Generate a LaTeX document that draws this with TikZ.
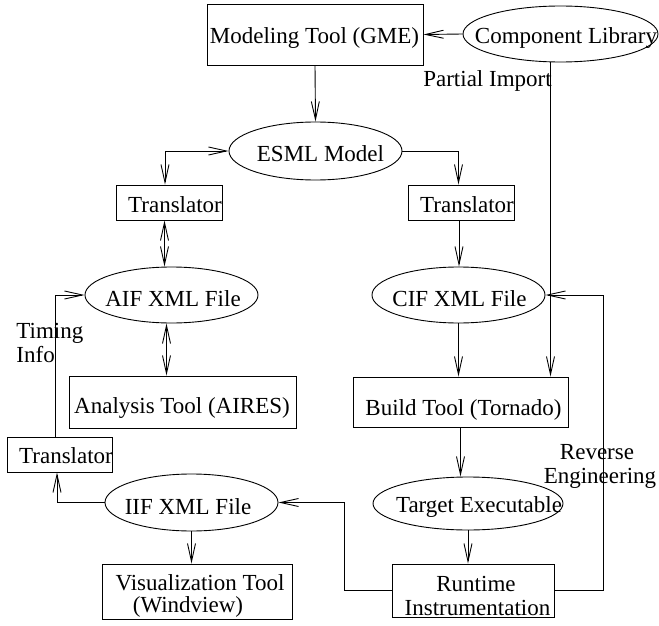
\documentclass[tikz,border=0pt]{standalone}
\usepackage{fontspec}
\setmainfont{Liberation Serif}
\usetikzlibrary{arrows.meta,shapes.geometric}
\begin{document}
\begin{tikzpicture}[x=1pt,y=-1pt, line width=0.9pt,
  box/.style={draw, rectangle, inner sep=0pt},
  ell/.style={draw, ellipse, inner sep=0pt},
  txt/.style={inner sep=0pt, anchor=base, font=\fontsize{23}{23}\selectfont},
  arr/.style={-{Straight Barb[length=18pt,width=8pt]}},
  darr/.style={{Straight Barb[length=18pt,width=8pt]}-{Straight Barb[length=18pt,width=8pt]}}]
\useasboundingbox (0,0) rectangle (659,626);
% shapes
\node[box, minimum width=216pt, minimum height=61pt] (mt) at (315,34.5) {};
\node[ell, minimum width=195pt, minimum height=56pt] (cl) at (560.5,34) {};
\node[ell, minimum width=173pt, minimum height=58pt] (esml) at (315.5,151) {};
\node[box, minimum width=106pt, minimum height=35pt] (tr1) at (169,202.5) {};
\node[box, minimum width=106pt, minimum height=35pt] (tr2) at (461,202.5) {};
\node[ell, minimum width=173pt, minimum height=56pt] (aif) at (171.5,295) {};
\node[ell, minimum width=173pt, minimum height=56pt] (cif) at (458.5,295) {};
\node[box, minimum width=227pt, minimum height=52pt] (an) at (182.5,402) {};
\node[box, minimum width=215pt, minimum height=50pt] (bt) at (460.5,402) {};
\node[box, minimum width=105pt, minimum height=35pt] (tr3) at (59.5,454.5) {};
\node[ell, minimum width=173pt, minimum height=57pt] (iif) at (191.5,502.5) {};
\node[ell, minimum width=190pt, minimum height=53pt] (te) at (468,503.5) {};
\node[box, minimum width=190pt, minimum height=55pt] (vt) at (197,591.5) {};
\node[box, minimum width=162pt, minimum height=53pt] (rt) at (473,590.5) {};
% texts
\node[txt] (tmt) at (314.5,44) {Modeling Tool (GME)};
\node[txt] (tcl) at (566,44) {Component Library};
\node[txt] (tpi) at (487.5,86) {Partial Import};
\node[txt] (tesml) at (320.5,161) {ESML Model};
\node[txt] (ttr1) at (175,212) {Translator};
\node[txt] (ttr2) at (467,212) {Translator};
\node[txt] (taif) at (173,306) {AIF XML File};
\node[txt] (tcif) at (459.5,306) {CIF XML File};
\node[txt] (tan) at (182,413) {Analysis Tool (AIRES)};
\node[txt] (tbt) at (463.5,415) {Build Tool (Tornado)};
\node[txt, anchor=base west] (ttim) at (16,338) {Timing};
\node[txt, anchor=base west] (tinfo) at (16,362) {Info};
\node[txt] (ttr3) at (66,463) {Translator};
\node[txt] (tiif) at (188,514) {IIF XML File};
\node[txt] (tte) at (479,512) {Target Executable};
\node[txt] (tvt1) at (200,590) {Visualization Tool};
\node[txt] (tvt2) at (188,612) {(Windview)};
\node[txt] (trt1) at (476,591) {Runtime};
\node[txt] (trt2) at (477.5,615) {Instrumentation};
\node[txt] (tre1) at (597,459) {Reverse};
\node[txt] (tre2) at (600,483) {Engineering};
% connectors
\coordinate (c1) at (344,0);
\coordinate (c2) at (603,0);
\draw[arr] (cl.west) -- (mt.east);
\draw[arr] (mt.south) -- (esml.north);
\draw[darr] ([xshift=-4pt]tr1.north) |- (esml.west);
\draw[arr] (esml.east) -| ([xshift=-2.5pt]tr2.north);
\draw[darr] ([xshift=-4.5pt]tr1.south) -- ([xshift=-4.5pt]tr1.south |- aif.north);
\draw[darr] ([xshift=-5pt]aif.south) -- ([xshift=-5pt]aif.south |- an.north);
\draw[arr] ([xshift=-4.5pt]tr3.north) |- (aif.west);
\draw[arr] (iif.west) -| ([xshift=-2.5pt]tr3.south);
\draw[arr] (iif.south) -- (iif.south |- vt.north);
\draw[arr] (rt.west) -| (c1 |- iif.east) -- (iif.east);
\draw[arr] ([xshift=-10pt]cl.south) -- ([xshift=-10pt]cl.south |- bt.north);
\draw[arr] ([xshift=-2pt]tr2.south) -- ([xshift=-2pt]tr2.south |- cif.north);
\draw[arr] (cif.south) -- (cif.south |- bt.north);
\draw[arr] (bt.south) -- (bt.south |- te.north);
\draw[arr] (te.south) -- (te.south |- rt.north);
\draw[arr] (rt.east) -| (c2 |- cif.east) -- (cif.east);
\end{tikzpicture}
\end{document}
